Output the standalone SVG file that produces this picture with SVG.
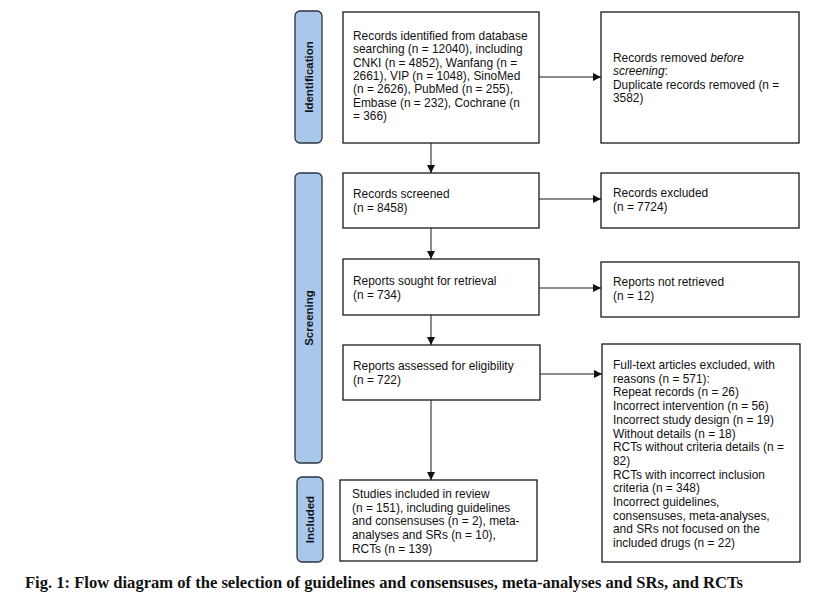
<svg xmlns="http://www.w3.org/2000/svg" width="815" height="604" viewBox="0 0 815 604">
<style>
.box{fill:#fff;stroke:#1a1a1a;stroke-width:1.3}
.bar{fill:#a9c7ea;stroke:#2b3340;stroke-width:1.3}
.t{font-family:"Liberation Sans",Arial,sans-serif;font-size:11.9px;fill:#111}
.lab{font-family:"Liberation Sans",Arial,sans-serif;font-size:11.5px;font-weight:bold;fill:#111;text-anchor:middle}
.cap{font-family:"Liberation Serif","Times New Roman",serif;font-size:16px;font-weight:bold;fill:#111}
.c{stroke:#1a1a1a;stroke-width:1;fill:none;marker-end:url(#ah)}
</style>
<defs>
<marker id="ah" viewBox="0 0 10 10" refX="10" refY="5" markerWidth="8" markerHeight="8" markerUnits="userSpaceOnUse" orient="auto">
<path d="M0,0 L10,5 L0,10 z" fill="#111"/>
</marker>
</defs>
<rect width="815" height="604" fill="#fff"/>

<g id="bar-identification">
<rect class="bar" x="295" y="11" width="27" height="132" rx="5"/>
<text class="lab" transform="translate(312.5,77) rotate(-90)">Identification</text>
</g>
<g id="bar-screening">
<rect class="bar" x="295" y="173" width="27" height="290" rx="5"/>
<text class="lab" transform="translate(312.5,318) rotate(-90)">Screening</text>
</g>
<g id="bar-included">
<rect class="bar" x="297" y="477" width="26" height="85" rx="5"/>
<text class="lab" transform="translate(314,519.5) rotate(-90)">Included</text>
</g>

<g id="records-identified">
<rect class="box" x="343" y="12" width="196" height="131"/>
<text class="t" x="353" y="40">Records identified from database</text>
<text class="t" x="353" y="53.3">searching (n = 12040), including</text>
<text class="t" x="353" y="66.6">CNKI (n = 4852), Wanfang (n =</text>
<text class="t" x="353" y="80">2661), VIP (n = 1048), SinoMed</text>
<text class="t" x="353" y="93.3">(n = 2626), PubMed (n = 255),</text>
<text class="t" x="353" y="106.6">Embase (n = 232), Cochrane (n</text>
<text class="t" x="353" y="120">= 366)</text>
</g>
<g id="records-removed">
<rect class="box" x="601" y="12" width="198" height="131"/>
<text class="t" x="613" y="62">Records removed <tspan font-style="italic">before</tspan></text>
<text class="t" x="613" y="75.3"><tspan font-style="italic">screening</tspan>:</text>
<text class="t" x="613" y="88.6">Duplicate records removed (n =</text>
<text class="t" x="613" y="102">3582)</text>
</g>
<g id="records-screened">
<rect class="box" x="343" y="173" width="196" height="55"/>
<text class="t" x="353" y="198">Records screened</text>
<text class="t" x="353" y="212">(n = 8458)</text>
</g>
<g id="records-excluded">
<rect class="box" x="601" y="173" width="198" height="55"/>
<text class="t" x="613" y="197">Records excluded</text>
<text class="t" x="613" y="211">(n = 7724)</text>
</g>
<g id="reports-sought">
<rect class="box" x="343" y="259" width="196" height="56"/>
<text class="t" x="353" y="285">Reports sought for retrieval</text>
<text class="t" x="353" y="299">(n = 734)</text>
</g>
<g id="reports-not-retrieved">
<rect class="box" x="601" y="262" width="198" height="55"/>
<text class="t" x="613" y="286">Reports not retrieved</text>
<text class="t" x="613" y="300">(n = 12)</text>
</g>
<g id="reports-assessed">
<rect class="box" x="343" y="345" width="197" height="55"/>
<text class="t" x="353" y="370">Reports assessed for eligibility</text>
<text class="t" x="353" y="384">(n = 722)</text>
</g>
<g id="fulltext-excluded">
<rect class="box" x="602" y="344" width="198" height="218"/>
<text class="t" x="613" y="369">Full-text articles excluded, with</text>
<text class="t" x="613" y="382.7">reasons (n = 571):</text>
<text class="t" x="613" y="396.4">Repeat records (n = 26)</text>
<text class="t" x="613" y="410.1">Incorrect intervention (n = 56)</text>
<text class="t" x="613" y="423.8">Incorrect study design (n = 19)</text>
<text class="t" x="613" y="437.5">Without details (n = 18)</text>
<text class="t" x="613" y="451.2">RCTs without criteria details (n =</text>
<text class="t" x="613" y="464.9">82)</text>
<text class="t" x="613" y="478.6">RCTs with incorrect inclusion</text>
<text class="t" x="613" y="492.3">criteria (n = 348)</text>
<text class="t" x="613" y="506">Incorrect guidelines,</text>
<text class="t" x="613" y="519.7">consensuses, meta-analyses,</text>
<text class="t" x="613" y="533.4">and SRs not focused on the</text>
<text class="t" x="613" y="547.1">included drugs (n = 22)</text>
</g>
<g id="studies-included">
<rect class="box" x="340" y="480" width="197" height="81"/>
<text class="t" x="352" y="498">Studies included in review</text>
<text class="t" x="352" y="511.7">(n = 151), including guidelines</text>
<text class="t" x="352" y="525.4">and consensuses (n = 2), meta-</text>
<text class="t" x="352" y="539.1">analyses and SRs (n = 10),</text>
<text class="t" x="352" y="552.8">RCTs (n = 139)</text>
</g>

<g id="connectors">
<line class="c" x1="539" y1="77" x2="601" y2="77"/>
<line class="c" x1="431" y1="143" x2="431" y2="173"/>
<line class="c" x1="539" y1="199" x2="601" y2="199"/>
<line class="c" x1="431" y1="228" x2="431" y2="259"/>
<line class="c" x1="539" y1="288" x2="601" y2="288"/>
<line class="c" x1="431" y1="315" x2="431" y2="345"/>
<line class="c" x1="540" y1="374" x2="602" y2="374"/>
<line class="c" x1="431" y1="400" x2="431" y2="480"/>
</g>

<text class="cap" x="25" y="588" textLength="718" lengthAdjust="spacingAndGlyphs">Fig. 1: Flow diagram of the selection of guidelines and consensuses, meta-analyses and SRs, and RCTs</text>
</svg>
